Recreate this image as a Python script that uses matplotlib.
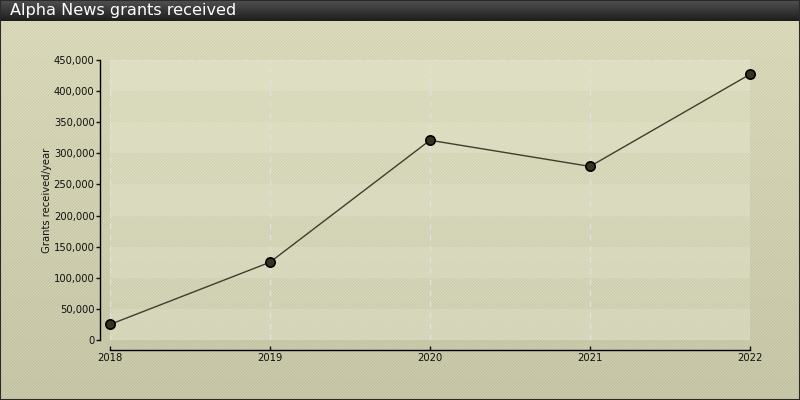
import matplotlib
matplotlib.use("Agg")
import matplotlib.pyplot as plt
from matplotlib.patches import Rectangle
from matplotlib.ticker import FuncFormatter
import numpy as np

years = [2018, 2019, 2020, 2021, 2022]
grants = [25000, 125000, 321000, 279000, 427000]
y_ticks = [0, 50000, 100000, 150000, 200000, 250000, 300000, 350000, 400000, 450000]
title = "Alpha News grants received"
y_label = "Grants received/year"

W, H = 800, 400
PX = 72 / 100  # points per pixel
fig = plt.figure(figsize=(8, 4), dpi=100)

# background: vertical gradient with fine diagonal stripes
yy, xx = np.mgrid[0:H, 0:W]
grad = 1 - yy / H
base = np.array([194, 194, 162]) + np.outer(grad.ravel(), [20, 20, 20]).reshape(H, W, 3)
stripe = ((xx + yy) % 3 == 0)[..., None] * np.array([10, 10, 12])
bg = np.clip(base + stripe, 0, 255) / 255.0
bg_ax = fig.add_axes([0, 0, 1, 1])
bg_ax.imshow(bg, aspect="auto", interpolation="nearest")
bg_ax.axis("off")

# title bar
tb = fig.add_axes([0, 1 - 21 / H, 1, 21 / H])
cm = matplotlib.colors.LinearSegmentedColormap.from_list("t", ["#505050", "#1e1e1e"])
tb.imshow(np.linspace(0, 1, 21)[:, None] * np.ones((21, 10)), cmap=cm, aspect="auto")
tb.axis("off")
fig.text(10 / W, 1 - 10 / H, title, color="white", fontsize=11.6, va="center", ha="left")

# border
fig.patches.append(Rectangle((0, 0), 1, 1, transform=fig.transFigure, fill=False,
                             edgecolor="#2a2a28", linewidth=1.5))

# plot area
x0, x1, y0, y1 = 110, 750, 60, 340
ax = fig.add_axes([x0 / W, 1 - y1 / H, (x1 - x0) / W, (y1 - y0) / H])
ax.set_xlim(years[0], years[-1])
ax.set_ylim(0, 450000)
ax.patch.set_alpha(0)
for i, lo in enumerate(y_ticks[:-1]):
    a = 0.18 if i % 2 else 0.32
    ax.axhspan(lo, lo + 50000, color="#f2f4e0", alpha=a, zorder=0, linewidth=0)
dash = (0, (4, 4))
for yr in years:
    ax.axvline(yr, color="#e2e2dc", linestyle=dash, linewidth=1, zorder=1)
for yv in (0, 450000):
    ax.axhline(yv, color="#e2e2dc", linestyle=dash, linewidth=1, zorder=1)

ax.plot(years, grants, color="#3e3e2c", linewidth=1, zorder=3)
ax.scatter(years, grants, s=45, facecolor="#35341f", edgecolor="black", linewidth=1.2,
           zorder=4, clip_on=False)

ax.set_xticks(years)
ax.set_yticks(y_ticks)
ax.yaxis.set_major_formatter(FuncFormatter(lambda v, p: f"{int(v):,}"))
for s in ["top", "right"]:
    ax.spines[s].set_visible(False)
ax.spines["left"].set_position(("outward", 10 * PX))
ax.spines["bottom"].set_position(("outward", 10 * PX))
ax.spines["left"].set_linewidth(1)
ax.spines["bottom"].set_linewidth(1)
ax.tick_params(axis="y", length=4 * PX, width=1, labelsize=8, pad=1, colors="#111111")
ax.tick_params(axis="x", direction="in", length=4 * PX, width=1, labelsize=8, pad=2,
               colors="#111111")
for lab in ax.get_xticklabels() + ax.get_yticklabels():
    lab.set_fontstretch("condensed")
ax.set_ylabel(y_label, fontsize=8, fontstretch="condensed", labelpad=1, color="#111111")

fig.savefig("out.png", dpi=100)
